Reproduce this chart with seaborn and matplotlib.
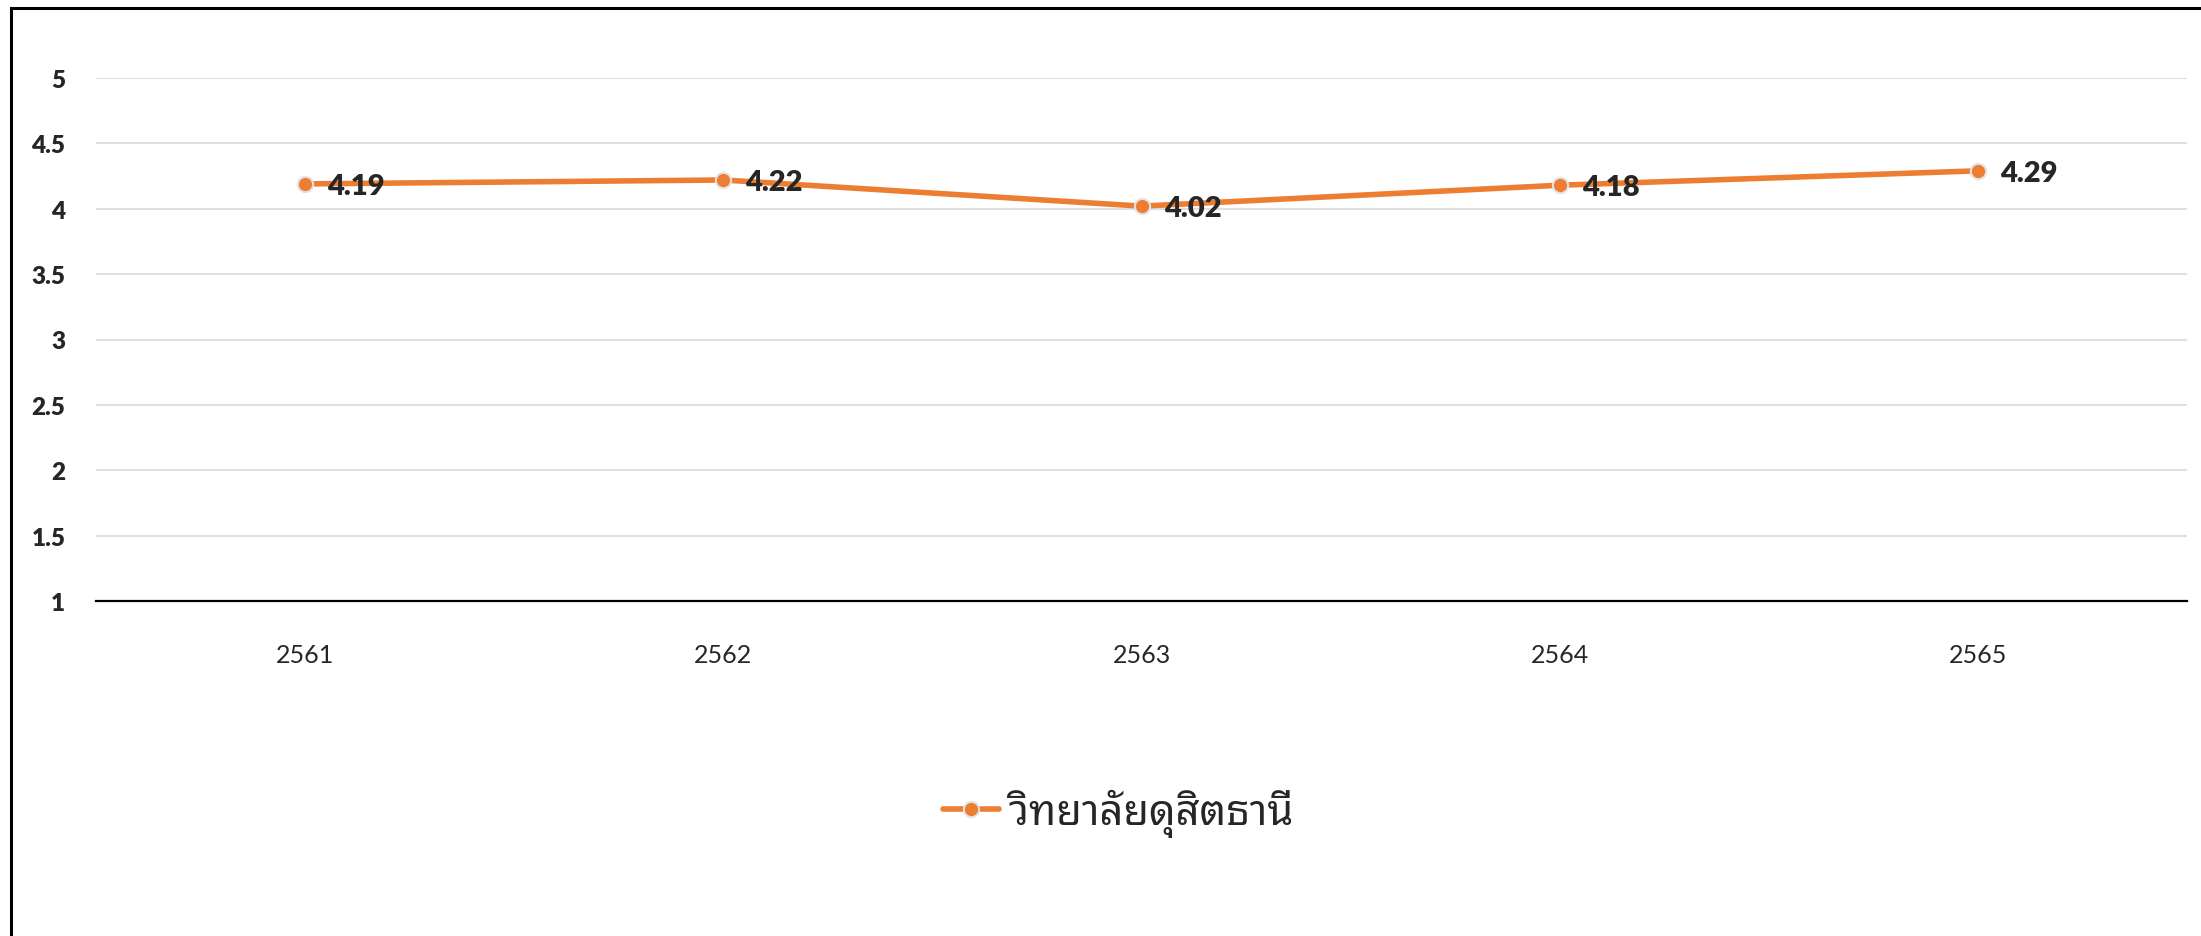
import matplotlib
matplotlib.use("Agg")
import matplotlib.pyplot as plt
import seaborn as sns
import pandas as pd
from matplotlib.patches import Rectangle

# data
years = ["2561", "2562", "2563", "2564", "2565"]
scores = [4.19, 4.22, 4.02, 4.18, 4.29]
series_name = "วิทยาลัยดุสิตธานี"
y_ticks = [1, 1.5, 2, 2.5, 3, 3.5, 4, 4.5, 5]
y_tick_labels = ["1", "1.5", "2", "2.5", "3", "3.5", "4", "4.5", "5"]

sns.set_style("white")
plt.rcParams["font.family"] = ["Lato", "Noto Sans Thai Looped", "DejaVu Sans"]

df = pd.DataFrame({"pos": range(len(years)), "score": scores, "series": series_name})

fig = plt.figure(figsize=(22.01, 9.37), dpi=100)
ax = fig.add_axes([96 / 2201, 1 - 602 / 937, (2187 - 96) / 2201, (602 - 79) / 937])

orange = "#ED7D31"
sns.lineplot(data=df, x="pos", y="score", hue="series", palette=[orange], ax=ax,
             linewidth=4, marker="o", markersize=11, markeredgecolor="#E3E3E3",
             markeredgewidth=1.5)

# value labels
for i, v in enumerate(scores):
    ax.annotate(f"{v:.2f}", (i, v), xytext=(16, -1.5), textcoords="offset points",
                ha="left", va="center", fontsize=21, fontweight="heavy")

ax.set_xlim(-0.5, len(years) - 0.5)
ax.set_ylim(1, 5)
ax.set_xticks(range(len(years)))
ax.set_xticklabels(years, fontsize=18)
ax.set_yticks(y_ticks)
ax.set_yticklabels(y_tick_labels, fontsize=17.5, fontweight="heavy")
ax.tick_params(axis="x", length=0, pad=30)
ax.tick_params(axis="y", length=0, pad=22)
ax.set_xlabel("")
ax.set_ylabel("")
ax.grid(axis="y", color="#DDE1E7", linewidth=1.5)
for s in ["top", "right", "left"]:
    ax.spines[s].set_visible(False)
ax.spines["bottom"].set_color("black")
ax.spines["bottom"].set_linewidth(1.6)
ax.spines["bottom"].set_zorder(3)

ax.legend(loc="center", bbox_to_anchor=(0.508, 1 - 814 / 937), bbox_transform=fig.transFigure,
          frameon=False, handlelength=1.35, handletextpad=0.25,
          prop={"family": ["Noto Sans Thai Looped", "DejaVu Sans"], "size": 30})

# outer frame
fig.patches.append(Rectangle((11 / 2201, -0.2), 1.2, 1.2 - 9 / 937,
                             transform=fig.transFigure, fill=False,
                             edgecolor="black", linewidth=2.2, clip_on=False))

fig.savefig("out.png", dpi=100)
